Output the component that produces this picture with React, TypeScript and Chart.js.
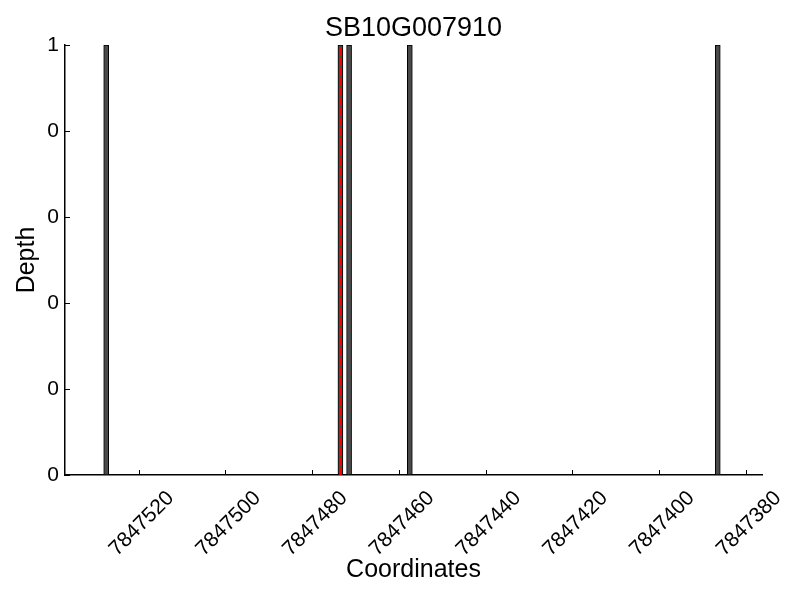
import { useEffect, useRef } from "react";
import { Chart, registerables } from "chart.js";

Chart.register(...registerables);

const chartTitle = "SB10G007910";
const xAxisTitle = "Coordinates";
const yAxisTitle = "Depth";

const barPositions = [7847527.5, 7847473.5, 7847471.5, 7847457.5, 7847386.5];
const barDepths = [1, 1, 1, 1, 1];
const markerPosition = 7847473.5;

const xRange = [7847376.3, 7847537];
const xTickValues = [7847380, 7847400, 7847420, 7847440, 7847460, 7847480, 7847500, 7847520];
const yTickValues = [0, 0.2, 0.4, 0.6, 0.8, 1];
const yTickLabels = ["0", "0", "0", "0", "0", "1"];

const FONT = "'Liberation Sans', Arial, Helvetica, sans-serif";

const inwardTicks = {
  id: "inwardTicks",
  afterDatasetsDraw(chart: any) {
    const { ctx, chartArea, scales } = chart;
    ctx.save();
    ctx.strokeStyle = "#000";
    ctx.lineWidth = 1;
    ctx.beginPath();
    for (const t of scales.x.ticks) {
      const px = Math.round(scales.x.getPixelForValue(t.value)) + 0.5;
      ctx.moveTo(px, chartArea.bottom);
      ctx.lineTo(px, chartArea.bottom - 5);
    }
    for (const t of scales.y.ticks) {
      const py = Math.round(scales.y.getPixelForValue(t.value)) + 0.5;
      ctx.moveTo(chartArea.left, py);
      ctx.lineTo(chartArea.left + 5, py);
    }
    ctx.stroke();
    ctx.restore();
  },
};

const centeredTitle = {
  id: "centeredTitle",
  afterDraw(chart: any) {
    const { ctx, chartArea } = chart;
    ctx.save();
    ctx.fillStyle = "#000";
    ctx.font = `normal 27px ${FONT}`;
    ctx.textAlign = "center";
    ctx.textBaseline = "middle";
    ctx.fillText(chartTitle, (chartArea.left + chartArea.right) / 2, 29);
    ctx.restore();
  },
};

export default function App() {
  const ref = useRef<HTMLCanvasElement | null>(null);

  useEffect(() => {
    if (!ref.current) return;
    const chart = new Chart(ref.current, {
      type: "bar",
      data: {
        datasets: [
          {
            type: "line",
            label: "marker",
            data: [
              { x: markerPosition, y: 0 },
              { x: markerPosition, y: 1 },
            ],
            borderColor: "#ff0000",
            borderWidth: 2,
            borderDash: [7, 3],
            pointRadius: 0,
            fill: false,
            order: 0,
          } as any,
          {
            type: "bar",
            label: "depth",
            data: barPositions.map((x, i) => ({ x, y: barDepths[i] })),
            backgroundColor: "#4a4a4a",
            borderColor: "#000000",
            borderWidth: 1,
            borderSkipped: false,
            barThickness: 5,
            grouped: false,
            order: 1,
          } as any,
        ],
      },
      options: {
        responsive: false,
        animation: false,
        devicePixelRatio: 1,
        layout: { padding: { left: 0, right: 38, top: 45, bottom: 0 } },
        plugins: {
          legend: { display: false },
          tooltip: { enabled: false },
          title: { display: false },
        },
        scales: {
          x: {
            type: "linear",
            reverse: true,
            offset: false,
            min: xRange[0],
            max: xRange[1],
            afterBuildTicks: (s: any) => {
              s.ticks = xTickValues.map((v) => ({ value: v }));
            },
            afterFit: (s: any) => {
              s.height = 125;
            },
            grid: { display: false, drawTicks: false, offset: false },
            border: { display: true, color: "#000", width: 1.5 },
            ticks: {
              color: "#000",
              font: { family: FONT, size: 21 },
              minRotation: 45,
              maxRotation: 45,
              labelOffset: 32,
              padding: 11,
              autoSkip: false,
              callback: (v: any) => String(v),
            },
            title: {
              display: true,
              text: xAxisTitle,
              color: "#000",
              font: { family: FONT, size: 25 },
              padding: { top: 0, bottom: 15 },
            },
          },
          y: {
            type: "linear",
            min: 0,
            max: 1,
            afterBuildTicks: (s: any) => {
              s.ticks = yTickValues.map((v) => ({ value: v }));
            },
            afterFit: (s: any) => {
              s.width = 65;
            },
            grid: { display: false, drawTicks: false },
            border: { display: true, color: "#000", width: 1.5 },
            ticks: {
              color: "#000",
              font: { family: FONT, size: 21 },
              padding: 6,
              callback: (_v: any, i: number) => yTickLabels[i],
            },
            title: {
              display: true,
              text: yAxisTitle,
              color: "#000",
              font: { family: FONT, size: 25 },
              padding: { top: 12, bottom: 0 },
            },
          },
        },
      },
      plugins: [inwardTicks, centeredTitle],
    });
    return () => chart.destroy();
  }, []);

  return (
    <canvas
      ref={ref}
      width={800}
      height={600}
      style={{ position: "absolute", left: 0, top: 0, display: "block" }}
    />
  );
}
